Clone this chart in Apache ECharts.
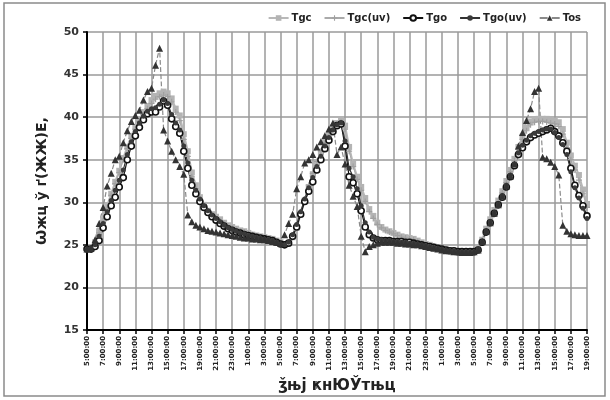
<!DOCTYPE html>
<html>
<head>
<meta charset="utf-8">
<script src="https://cdn.jsdelivr.net/npm/echarts@6/dist/echarts.min.js"></script>
<style>
  html, body { margin: 0; padding: 0; background: #fff; }
  #chart { width: 610px; height: 400px; }
</style>
</head>
<body>
<div id="chart"></div>
<script>
// half-hourly readings, 5:00:00 day 1 to 19:00:00 day 3
var times = []
for (var k = 0; k <= 124; k++) {
  var hr = (5 + Math.floor(k / 2)) % 24
  times.push(hr + (k % 2 ? ':30:00' : ':00:00'))
}

var tgc = [24.5, 24.6, 25.3, 26.6, 28.0, 29.6, 31.0, 32.4, 33.7, 35.2, 36.5, 37.8, 38.8, 39.7, 40.6, 41.3, 42.0, 42.5, 42.8, 43.0,
  42.8, 42.2, 41.0, 40.2, 38.0, 36.0, 33.5, 32.0, 30.6, 29.7, 29.0, 28.6, 28.3, 28.0, 27.6, 27.3, 27.1, 26.9, 26.7, 26.6,
  26.4, 26.2, 26.1, 26.0, 25.9, 25.8, 25.7, 25.5, 25.3, 25.1, 25.2, 25.9, 27.0, 28.6, 30.2, 31.8, 33.3, 34.6, 35.9, 37.0,
  38.0, 38.8, 39.3, 39.6, 39.0, 36.5, 34.5, 33.0, 31.8, 30.5, 29.2, 28.4, 27.6, 27.1, 26.8, 26.6, 26.4, 26.2, 26.0, 25.9,
  25.8, 25.7, 25.5, 25.3, 25.1, 25.0, 24.8, 24.7, 24.6, 24.5, 24.4, 24.3, 24.3, 24.2, 24.2, 24.2, 24.3, 24.6, 25.6, 26.9,
  28.0, 29.1, 30.2, 31.3, 32.5, 33.8, 35.1, 36.5, 37.7, 38.8, 39.5, 39.7, 39.8, 39.8, 39.8, 39.7, 39.6, 39.4, 38.6, 37.0,
  35.5, 34.3, 33.2, 31.5, 29.8]

var tgcUv = [24.4, 24.5, 25.2, 26.4, 27.8, 29.3, 30.8, 32.2, 33.5, 35.0, 36.3, 37.5, 38.6, 39.5, 40.3, 41.0, 41.6, 42.1, 42.4, 42.6,
  42.4, 41.8, 40.6, 39.6, 37.4, 35.4, 33.0, 31.6, 30.3, 29.5, 28.8, 28.4, 28.1, 27.8, 27.5, 27.2, 27.0, 26.8, 26.6, 26.5,
  26.3, 26.2, 26.0, 25.9, 25.8, 25.7, 25.6, 25.4, 25.2, 25.1, 25.3, 26.1, 27.3, 28.9, 30.4, 32.0, 33.4, 34.8, 36.0, 37.0,
  37.9, 38.6, 39.1, 39.4, 38.6, 36.0, 34.2, 32.7, 31.4, 30.1, 28.9, 28.1, 27.4, 27.0, 26.7, 26.5, 26.3, 26.1, 25.9, 25.8,
  25.7, 25.6, 25.4, 25.2, 25.0, 24.9, 24.8, 24.6, 24.5, 24.4, 24.3, 24.2, 24.2, 24.1, 24.1, 24.1, 24.2, 24.5, 25.5, 26.7,
  27.8, 28.9, 30.0, 31.1, 32.3, 33.6, 34.9, 36.2, 37.4, 38.4, 39.1, 39.4, 39.5, 39.5, 39.4, 39.3, 39.2, 38.9, 38.0, 36.4,
  35.0, 33.8, 32.6, 31.0, 29.4]

var tgo = [24.5, 24.5, 24.8, 25.5, 27.0, 28.3, 29.6, 30.6, 31.8, 32.9, 35.0, 36.6, 37.8, 38.8, 39.7, 40.4, 40.6, 40.6, 41.2, 41.9,
  41.4, 39.8, 38.9, 38.1, 36.0, 34.0, 32.0, 31.0, 30.1, 29.4, 28.8, 28.3, 27.9, 27.5, 27.2, 26.9, 26.7, 26.5, 26.4, 26.2,
  26.1, 26.0, 25.9, 25.8, 25.7, 25.6, 25.5, 25.3, 25.1, 25.0, 25.2, 26.0, 27.1, 28.6, 30.1, 31.3, 32.4, 33.8, 35.0, 36.3,
  37.3, 38.3, 39.0, 39.2, 36.6, 33.0, 32.3, 31.0, 29.0, 27.1, 26.2, 25.8, 25.6, 25.5, 25.5, 25.5, 25.4, 25.4, 25.4, 25.3,
  25.3, 25.2, 25.1, 25.0, 24.9, 24.8, 24.7, 24.6, 24.5, 24.4, 24.3, 24.3, 24.2, 24.2, 24.2, 24.2, 24.2, 24.4, 25.3, 26.5,
  27.6, 28.7, 29.7, 30.6, 31.8, 33.0, 34.3, 35.6, 36.4, 37.1, 37.6, 37.9, 38.1, 38.3, 38.5, 38.7, 38.3, 37.8, 37.0, 36.0,
  34.0, 32.0, 30.8, 29.6, 28.4]

var tgoUv = [24.5, 24.6, 25.0, 26.0, 27.5, 28.9, 30.2, 31.4, 32.6, 33.8, 35.6, 37.1, 38.3, 39.3, 40.1, 40.7, 41.0, 41.1, 41.5, 42.0,
  41.6, 40.3, 39.3, 38.5, 36.6, 34.6, 32.6, 31.4, 30.4, 29.6, 29.0, 28.5, 28.1, 27.7, 27.3, 27.0, 26.8, 26.6, 26.4, 26.3,
  26.1, 26.0, 25.9, 25.8, 25.7, 25.6, 25.5, 25.3, 25.1, 25.0, 25.3, 26.2, 27.4, 28.9, 30.4, 31.7, 32.9, 34.2, 35.4, 36.6,
  37.6, 38.5, 39.1, 39.3, 37.2, 34.0, 33.0, 31.6, 29.6, 27.6, 26.5, 25.9, 25.7, 25.6, 25.5, 25.5, 25.4, 25.4, 25.3, 25.3,
  25.2, 25.2, 25.1, 25.0, 24.9, 24.8, 24.7, 24.6, 24.5, 24.4, 24.3, 24.3, 24.2, 24.2, 24.2, 24.2, 24.2, 24.5, 25.4, 26.6,
  27.7, 28.8, 29.8, 30.8, 32.0, 33.2, 34.5, 35.8, 36.7, 37.3, 37.8, 38.1, 38.3, 38.5, 38.6, 38.6, 38.2, 37.6, 36.8, 35.6,
  33.6, 31.7, 30.5, 29.3, 28.1]

var tos = [24.5, 24.6, 25.6, 27.5, 29.4, 31.9, 33.4, 35.0, 35.4, 37.0, 38.4, 39.5, 40.2, 40.8, 42.0, 43.0, 43.4, 46.1, 48.1, 38.5,
  37.2, 36.0, 35.0, 34.2, 33.3, 28.5, 27.7, 27.3, 27.1, 26.9, 26.7, 26.6, 26.5, 26.4, 26.3, 26.2, 26.1, 26.0, 25.9, 25.8,
  25.8, 25.7, 25.7, 25.6, 25.6, 25.5, 25.4, 25.3, 25.2, 26.2, 27.5, 28.6, 31.6, 33.0, 34.6, 35.0, 35.6, 36.5, 37.1, 37.8,
  38.6, 39.3, 35.6, 36.5, 34.5, 32.0, 30.7, 29.5, 26.0, 24.2, 24.8, 25.0, 25.2, 25.3, 25.3, 25.3, 25.3, 25.2, 25.2, 25.1,
  25.1, 25.0, 25.0, 24.9, 24.8, 24.7, 24.6, 24.5, 24.4, 24.3, 24.3, 24.2, 24.2, 24.1, 24.1, 24.1, 24.2, 24.4, 25.4, 26.6,
  27.6, 28.7, 29.7, 30.7, 31.9, 33.1, 34.5, 36.6, 38.2, 39.6, 41.0, 43.0, 43.4, 35.3, 35.1, 34.7, 34.2, 33.2, 27.3, 26.6,
  26.3, 26.2, 26.1, 26.1, 26.1]

var yTitle = 'Ѡжц ў ґ(ЖЖ)Е,'
var xTitle = 'ǯњј ҝнЮЎтњц'

var chart = echarts.init(document.getElementById('chart'))
var option = {
  backgroundColor: '#fff',
  animation: false,
  graphic: [{
    type: 'rect',
    shape: { x: 4, y: 3, width: 601, height: 393 },
    style: { fill: 'none', stroke: '#8a8a8a', lineWidth: 1.5 },
    z: -1
  }],
  legend: {
    top: 8,
    right: 24,
    itemGap: 12,
    itemWidth: 20,
    itemHeight: 7,
    textStyle: { fontFamily: 'DejaVu Sans', fontWeight: 'bold', fontSize: 10, color: '#222', padding: [0, 0, 0, -2] },
    data: ['Tgc', 'Tgc(uv)', 'Tgo', 'Tgo(uv)', 'Tos']
  },
  grid: { left: 87, right: 23, top: 32, bottom: 70 },
  xAxis: {
    type: 'category',
    data: times,
    boundaryGap: false,
    name: xTitle,
    nameLocation: 'middle',
    nameGap: 44,
    nameTextStyle: { fontFamily: 'DejaVu Sans', fontWeight: 'bold', fontSize: 15, color: '#222' },
    axisLine: { lineStyle: { color: '#000', width: 2 } },
    axisTick: { interval: 3, length: 4, lineStyle: { color: '#000', width: 1.5 } },
    axisLabel: {
      interval: 3,
      rotate: 90,
      fontSize: 7,
      fontWeight: 'bold',
      fontFamily: 'DejaVu Sans',
      color: '#222',
      margin: 6
    },
    splitLine: { show: true, interval: 3, lineStyle: { color: '#9a9a9a', width: 1.5 } }
  },
  yAxis: {
    type: 'value',
    min: 15,
    max: 50,
    interval: 5,
    name: yTitle,
    nameLocation: 'middle',
    nameGap: 38,
    nameTextStyle: { fontFamily: 'DejaVu Sans', fontWeight: 'bold', fontSize: 14, color: '#222' },
    axisLine: { show: true, lineStyle: { color: '#000', width: 2 } },
    axisTick: { show: true, length: 4, lineStyle: { color: '#000', width: 1.5 } },
    axisLabel: { fontFamily: 'DejaVu Sans', fontWeight: 'bold', fontSize: 11, color: '#333', margin: 8 },
    splitLine: { lineStyle: { color: '#9a9a9a', width: 1.5 } }
  },
  series: [
    {
      name: 'Tgc', type: 'line', data: tgc, showAllSymbol: true,
      symbol: 'rect', symbolSize: 6,
      lineStyle: { color: '#b8b8b8', width: 2 },
      itemStyle: { color: '#b4b4b4' }
    },
    {
      name: 'Tgc(uv)', type: 'line', data: tgcUv, showAllSymbol: true,
      symbol: 'path://M4,0H6V4H10V6H6V10H4V6H0V4H4Z', symbolSize: 6,
      lineStyle: { color: '#aaaaaa', width: 1 },
      itemStyle: { color: '#a0a0a0' }
    },
    {
      name: 'Tgo', type: 'line', data: tgo, showAllSymbol: true,
      symbol: 'circle', symbolSize: 6,
      lineStyle: { color: '#111', width: 1.2 },
      itemStyle: { color: '#fff', borderColor: '#111', borderWidth: 1.6 }
    },
    {
      name: 'Tgo(uv)', type: 'line', data: tgoUv, showAllSymbol: true,
      symbol: 'circle', symbolSize: 5,
      lineStyle: { color: '#333', width: 1.2 },
      itemStyle: { color: '#3a3a3a' }
    },
    {
      name: 'Tos', type: 'line', data: tos, showAllSymbol: true,
      symbol: 'triangle', symbolSize: 7,
      lineStyle: { color: '#8a8a8a', width: 1.2, type: 'dashed' },
      itemStyle: { color: '#333' }
    }
  ]
}
chart.setOption(option)
window.addEventListener('resize', function() {
  chart.resize()
})
</script>
</body>
</html>
